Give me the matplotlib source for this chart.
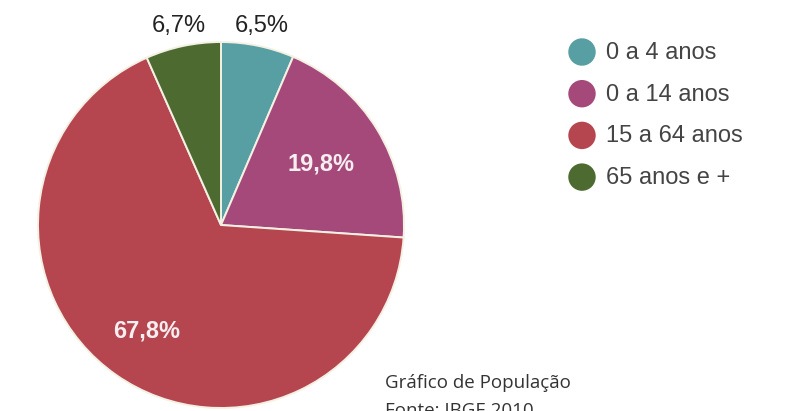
import numpy as np
import matplotlib
matplotlib.use("Agg")
import matplotlib.pyplot as plt

categories = ["0 a 4 anos", "0 a 14 anos", "15 a 64 anos", "65 anos e +"]
values = [6.5, 19.8, 67.8, 6.7]
labels = ["6,5%", "19,8%", "67,8%", "6,7%"]
colors = ["#589fa3", "#a4497a", "#b5464f", "#4d6b30"]
label_dist = [1.11, 0.64, 0.71, 1.11]
label_inside = [False, True, True, False]

W, H = 789, 411
fig = plt.figure(figsize=(W / 100, H / 100), dpi=100)
fig.patch.set_facecolor("white")

# pie axes: centre (221,225) px, radius 183 px
cx, cy, R = 221, 225, 183
ax = fig.add_axes([(cx - R) / W, (H - cy - R) / H, 2 * R / W, 2 * R / H])
wedges, _ = ax.pie(values, colors=colors, startangle=90, counterclock=False,
                   wedgeprops=dict(edgecolor="#f4f1e4", linewidth=1.4))
ax.set_xlim(-1, 1)
ax.set_ylim(-1, 1)
ax.set_aspect("equal")
ax.axis("off")

for w, lab, d, inside in zip(wedges, labels, label_dist, label_inside):
    ang = np.deg2rad((w.theta1 + w.theta2) / 2)
    x, y = d * np.cos(ang), d * np.sin(ang)
    if inside:
        ax.text(x, y, lab, ha="center", va="center", color="#f6eef0",
                fontsize=17, fontweight="bold",
                family=["Liberation Sans", "DejaVu Sans"], clip_on=False)
    else:
        ax.text(x, y, lab, ha="center", va="center", color="#222222",
                fontsize=17, family=["Liberation Sans Narrow", "Liberation Sans", "DejaVu Sans"],
                clip_on=False)

# legend in pixel coordinates
lax = fig.add_axes([0, 0, 1, 1])
lax.set_xlim(0, W)
lax.set_ylim(H, 0)
lax.axis("off")
lax.patch.set_alpha(0)
leg_y0, leg_dy = 52, 41.7
for i, (cat, col) in enumerate(zip(categories, colors)):
    yy = leg_y0 + i * leg_dy
    lax.scatter([582], [yy], s=390, color=col, edgecolors="none")
    lax.text(606, yy + 1, cat, ha="left", va="center", fontsize=17,
             color="#444444", family=["Liberation Sans", "DejaVu Sans"])

lax.text(385, 388, "Gráfico de População", ha="left", va="baseline",
         fontsize=13.5, color="#333333", family=["Open Sans", "DejaVu Sans"])
lax.text(385, 416, "Fonte: IBGE 2010", ha="left", va="baseline",
         fontsize=13.5, color="#333333", family=["Open Sans", "DejaVu Sans"])

fig.savefig("out.png", dpi=100)
